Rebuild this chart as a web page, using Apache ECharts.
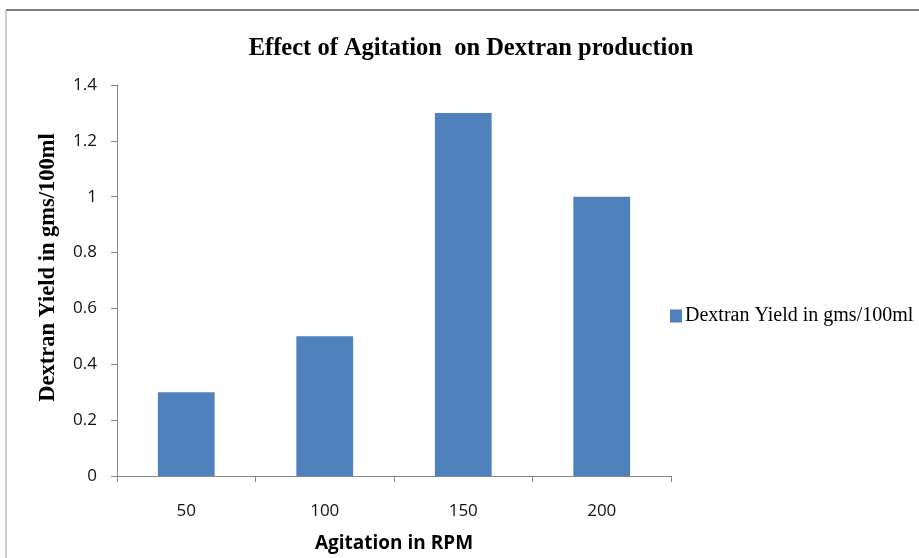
<!DOCTYPE html>
<html><head><meta charset="utf-8">
<script src="https://cdn.jsdelivr.net/npm/echarts@6/dist/echarts.min.js"></script>
<style>html,body{margin:0;padding:0;background:#fff}#c{width:919px;height:558px}</style>
</head><body><div id="c"></div>
<script>
const categories = ['50', '100', '150', '200'];
const yieldValues = [0.3, 0.5, 1.3, 1.0];
const seriesName = 'Dextran Yield in gms/100ml';
const yTicks = [0, 0.2, 0.4, 0.6, 0.8, 1, 1.2, 1.4];

const chart = echarts.init(document.getElementById('c'));
chart.setOption({
  animation: false,
  backgroundColor: '#fff',
  title: {
    text: 'Effect of Agitation  on Dextran production',
    left: 466, top: 31, textAlign: 'center',
    textStyle: {fontFamily: 'Liberation Serif', fontWeight: 'bold', fontSize: 24.5, color: '#000'}
  },
  legend: {
    data: [seriesName], left: 665, top: 301, icon: 'rect', itemWidth: 12, itemHeight: 13, itemGap: 4,
    textStyle: {fontFamily: 'Liberation Serif', fontSize: 20, color: '#000', padding: [0,0,0,-2]}
  },
  grid: {left: 117, right: 919 - 671, top: 85, bottom: 558 - 476},
  xAxis: {
    type: 'category', data: categories,
    name: 'Agitation in RPM', nameLocation: 'middle', nameGap: 58,
    nameTextStyle: {fontFamily: 'Open Sans', fontWeight: 'bold', fontSize: 19, color: '#000'},
    axisLine: {lineStyle: {color: '#868686'}},
    axisTick: {show: true, length: 6, lineStyle: {color: '#868686'}},
    axisLabel: {fontFamily: 'Open Sans', fontSize: 17, color: '#111', margin: 27}
  },
  yAxis: {
    type: 'value', min: 0, max: 1.4, interval: 0.2,
    name: 'Dextran Yield in gms/100ml', nameLocation: 'middle', nameGap: 57,
    nameTextStyle: {fontFamily: 'Liberation Serif', fontWeight: 'bold', fontSize: 22.5, color: '#000', padding: [0, 0, 0, 26]},
    axisLine: {show: true, lineStyle: {color: '#868686'}},
    axisTick: {show: true, length: 6, inside: false, lineStyle: {color: '#868686'}},
    splitLine: {show: false},
    axisLabel: {fontFamily: 'Open Sans', fontSize: 17, color: '#111', margin: 20,
      formatter: v => String(Math.round(v * 10) / 10)}
  },
  series: [{
    name: seriesName, type: 'bar', data: yieldValues, barWidth: '41%',
    itemStyle: {color: '#4f81bd'}
  }],
  graphic: [
    {type: 'line', shape: {x1: 6, y1: 10, x2: 919, y2: 10}, style: {stroke: '#7f7f7f', lineWidth: 2}},
    {type: 'line', shape: {x1: 6, y1: 10, x2: 6, y2: 558}, style: {stroke: '#9a9a9a', lineWidth: 1}}
  ]
});
</script></body></html>
